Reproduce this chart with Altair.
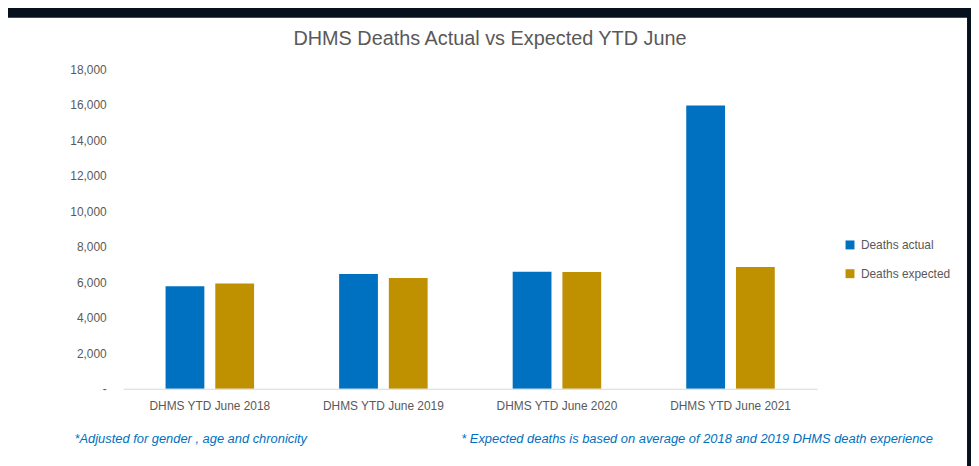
import altair as alt
import pandas as pd

title_text = "DHMS Deaths Actual vs Expected  YTD June"
categories = ["DHMS YTD June 2018", "DHMS YTD June 2019", "DHMS YTD June 2020", "DHMS YTD June 2021"]
deaths_actual = [5780, 6470, 6600, 15970]
deaths_expected = [5930, 6240, 6580, 6860]
series = ["Deaths actual", "Deaths expected"]
colors = ["#0070C0", "#BF9000"]
y_ticks = [0, 2000, 4000, 6000, 8000, 10000, 12000, 14000, 16000, 18000]
footnotes = ["*Adjusted for  gender , age and chronicity",
             "* Expected deaths is based on average of 2018 and  2019 DHMS death experience"]

rows = []
for c, a, e in zip(categories, deaths_actual, deaths_expected):
    rows.append({"category": c, "series": series[0], "value": a})
    rows.append({"category": c, "series": series[1], "value": e})
df = pd.DataFrame(rows)

W, H = 700, 322
FONT = "Liberation Sans"
GRAY = "#595959"

panel = alt.Chart(pd.DataFrame({"a": [0]})).mark_rect(color="white").encode(
    x=alt.value(-116), x2=alt.value(851), y=alt.value(-52), y2=alt.value(400)
)

title = alt.Chart(pd.DataFrame({"t": [title_text]})).mark_text(
    align="center", baseline="alphabetic", font=FONT, fontSize=20, color=GRAY
).encode(x=alt.value(370), y=alt.value(-25), text="t:N")

bars = alt.Chart(df).mark_bar().encode(
    x=alt.X("category:N", sort=categories, title=None,
            scale=alt.Scale(paddingInner=0.49, paddingOuter=0.245),
            axis=alt.Axis(labelAngle=0, ticks=False, domainColor="#D9D9D9", domainWidth=1,
                          labelFont=FONT, labelFontSize=12, labelColor=GRAY, labelPadding=12,
                          zindex=2)),
    xOffset=alt.XOffset("series:N", sort=series,
                        scale=alt.Scale(paddingInner=0.22, paddingOuter=0)),
    y=alt.Y("value:Q", title=None,
            scale=alt.Scale(domain=[0, 18000], nice=False),
            axis=alt.Axis(values=y_ticks, grid=False, ticks=False, domain=False,
                          labelExpr="datum.value == 0 ? '-' : format(datum.value, ',')",
                          labelFont=FONT, labelFontSize=12, labelColor=GRAY, labelPadding=17,
                          zindex=2)),
    color=alt.Color("series:N", sort=series, title=None,
                    scale=alt.Scale(domain=series, range=colors),
                    legend=alt.Legend(orient="none", legendX=727, legendY=171,
                                      symbolType="square", symbolSize=81, symbolStrokeWidth=0,
                                      labelFont=FONT, labelFontSize=12, labelColor=GRAY,
                                      rowPadding=17, labelOffset=5, zindex=2)),
)

fn_df = pd.DataFrame({"text": footnotes, "px": [-49, 341]})
notes = alt.Chart(fn_df).mark_text(
    align="left", baseline="alphabetic", font=FONT, fontSize=13, fontStyle="italic", color="#0070C0"
).encode(
    x=alt.X("px:Q", scale=None), y=alt.value(377), text="text:N"
)

chart = alt.layer(panel, title, bars, notes).properties(
    width=W, height=H,
    padding={"left": 116, "top": 60, "right": 155, "bottom": 76},
    autosize=alt.AutoSizeParams(type="none"),
    background="#07111E",
).configure_view(stroke=None)

chart.save("out.html", embed_options={"renderer": "svg", "actions": False})
